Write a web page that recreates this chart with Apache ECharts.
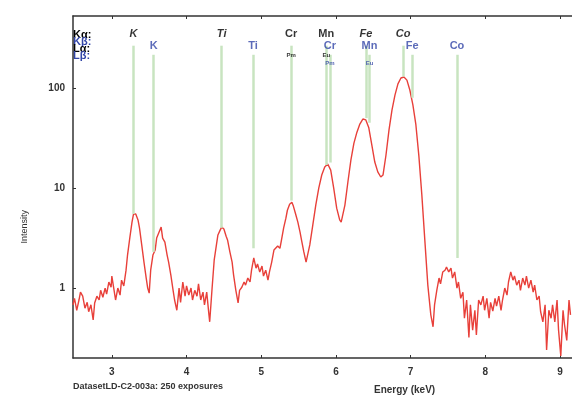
<!DOCTYPE html>
<html>
<head>
<meta charset="utf-8">
<script src="https://cdn.jsdelivr.net/npm/echarts@6/dist/echarts.min.js"></script>
<style>
  html, body { margin: 0; padding: 0; background: #fff; }
  #chart-container { width: 572px; height: 399px; }
</style>
</head>
<body>
<div id="chart-container"></div>
<script>
// spectrum: [energy keV, intensity]
const spectrum = [
  [2.48, 0.68], [2.50, 0.79], [2.53, 0.60], [2.56, 0.76], [2.58, 0.91], [2.61, 0.83], [2.64, 0.63],
  [2.67, 0.72], [2.69, 0.58], [2.72, 0.68], [2.75, 0.48], [2.77, 0.71], [2.80, 0.83], [2.83, 0.76],
  [2.85, 0.95], [2.88, 0.81], [2.91, 1.0], [2.93, 0.87], [2.96, 1.15], [2.99, 1.02], [3.00, 1.32],
  [3.03, 0.95], [3.05, 0.76], [3.08, 1.0], [3.11, 0.85], [3.13, 1.2], [3.16, 1.05], [3.19, 1.51],
  [3.21, 2.14], [3.24, 3.16], [3.27, 4.57], [3.29, 5.5], [3.32, 5.5], [3.35, 4.8], [3.37, 4.0],
  [3.40, 2.7], [3.43, 1.82], [3.46, 1.26], [3.48, 1.0], [3.50, 0.89], [3.52, 1.51], [3.55, 2.14],
  [3.58, 2.4], [3.60, 3.16], [3.63, 3.6], [3.66, 4.07], [3.68, 3.16], [3.71, 2.88], [3.74, 2.14],
  [3.76, 1.82], [3.79, 1.35], [3.82, 0.95], [3.84, 0.76], [3.87, 0.6], [3.90, 1.0], [3.92, 0.72],
  [3.95, 1.15], [3.98, 0.83], [4.00, 1.05], [4.03, 0.85], [4.06, 1.0], [4.08, 0.76], [4.11, 0.95],
  [4.14, 0.83], [4.16, 1.1], [4.19, 0.76], [4.22, 0.91], [4.24, 0.68], [4.27, 0.91], [4.30, 0.54],
  [4.31, 0.46], [4.34, 0.95], [4.37, 1.9], [4.40, 2.7], [4.42, 3.4], [4.45, 3.8], [4.47, 4.07],
  [4.50, 3.9], [4.53, 3.3], [4.55, 3.0], [4.58, 2.3], [4.61, 1.82], [4.63, 1.35], [4.66, 0.95],
  [4.69, 0.71], [4.71, 0.95], [4.74, 1.02], [4.77, 1.15], [4.79, 1.07], [4.82, 1.26], [4.85, 1.15],
  [4.87, 1.51], [4.90, 2.0], [4.93, 1.58], [4.95, 1.74], [4.98, 1.45], [5.01, 1.66], [5.03, 1.32],
  [5.06, 1.51], [5.09, 1.2], [5.11, 1.45], [5.14, 1.82], [5.17, 2.4], [5.19, 2.3], [5.22, 2.63],
  [5.25, 2.5], [5.27, 3.0], [5.30, 4.0], [5.33, 5.0], [5.35, 6.0], [5.38, 6.9], [5.41, 7.2],
  [5.43, 6.6], [5.46, 5.5], [5.49, 4.57], [5.52, 3.6], [5.54, 3.0], [5.57, 2.3], [5.60, 1.82],
  [5.61, 1.82], [5.65, 2.7], [5.69, 4.27], [5.73, 6.76], [5.77, 10], [5.81, 13.5], [5.85, 16.2],
  [5.89, 17.4], [5.93, 15.1], [5.97, 10], [6.01, 6.3], [6.05, 4.8], [6.07, 4.57], [6.12, 6.76],
  [6.16, 11.5], [6.20, 19], [6.24, 28], [6.28, 36], [6.32, 43.6], [6.36, 49], [6.40, 48],
  [6.44, 40], [6.48, 27], [6.52, 18.2], [6.56, 14.5], [6.60, 12.9], [6.63, 13.5], [6.67, 21.4],
  [6.71, 38], [6.75, 60], [6.79, 85], [6.83, 110], [6.87, 126], [6.91, 129], [6.95, 120],
  [6.99, 95], [7.03, 68], [7.07, 43], [7.11, 21], [7.15, 8.5], [7.19, 3.0], [7.23, 1.07],
  [7.27, 0.54], [7.30, 0.41], [7.32, 0.68], [7.35, 0.95], [7.38, 1.26], [7.40, 1.1], [7.43, 1.45],
  [7.46, 1.51], [7.48, 1.62], [7.51, 1.45], [7.54, 1.58], [7.56, 1.26], [7.59, 1.45], [7.62, 1.0],
  [7.64, 1.15], [7.67, 0.79], [7.70, 0.91], [7.72, 0.5], [7.75, 0.76], [7.78, 0.32], [7.80, 0.68],
  [7.83, 0.38], [7.86, 0.6], [7.88, 0.34], [7.91, 0.76], [7.94, 0.68], [7.97, 0.83], [7.99, 0.6],
  [8.02, 0.79], [8.05, 0.5], [8.07, 0.72], [8.10, 0.59], [8.13, 0.79], [8.15, 0.66], [8.18, 0.83],
  [8.21, 0.6], [8.23, 0.76], [8.26, 1.0], [8.29, 0.85], [8.31, 1.15], [8.34, 1.45], [8.37, 1.2],
  [8.39, 1.32], [8.42, 1.07], [8.45, 1.2], [8.47, 0.95], [8.50, 1.26], [8.53, 1.07], [8.55, 1.32],
  [8.58, 1.0], [8.61, 1.2], [8.64, 0.91], [8.66, 1.07], [8.69, 0.76], [8.72, 0.83], [8.74, 0.58],
  [8.77, 0.46], [8.80, 0.68], [8.82, 0.24], [8.85, 0.6], [8.88, 0.5], [8.90, 0.68], [8.93, 0.46],
  [8.96, 0.76], [8.98, 0.38], [9.01, 0.21], [9.04, 0.6], [9.06, 0.43], [9.09, 0.3], [9.12, 0.76],
  [9.14, 0.54]
];

// emission lines: [energy, intensity where the marker stops, label]
const kAlpha = [[3.29, 5.5, "K"], [4.47, 4.0, "Ti"], [5.40, 7.5, "Cr"], [5.87, 17, "Mn"], [6.40, 50, "Fe"], [6.90, 130, "Co"]];
const kBeta = [[3.56, 2.3, "K"], [4.89, 2.5, "Ti"], [5.92, 18, "Cr"], [6.45, 45, "Mn"], [7.02, 80, "Fe"], [7.62, 2.0, "Co"]];
const lAlpha = [[5.40, "Pm"], [5.87, "Eu"]];
const lBeta = [[5.92, "Pm"], [6.45, "Eu"]];
const uprightNames = ["Cr", "Mn"];

const xTicks = [3, 4, 5, 6, 7, 8, 9];
const yTicks = [1, 10, 100];

const chart = echarts.init(document.getElementById("chart-container"));
const font = "Liberation Sans";
const axisColor = "#333";
const blue = "#3346a8";

// marker lines start just under the label rows
const alphaTop = 265, betaTop = 215;
const lineData = [];
kAlpha.forEach(d => lineData.push([{ coord: [d[0], alphaTop] }, { coord: [d[0], d[1]] }]));
kBeta.forEach(d => lineData.push([{ coord: [d[0], betaTop] }, { coord: [d[0], d[1]] }]));

function labelSeries(data, yVal, color, size, italicAll) {
  return {
    type: "scatter",
    symbolSize: 0,
    silent: true,
    data: data.map(d => {
      const name = d[d.length - 1];
      const italic = italicAll && uprightNames.indexOf(name) < 0;
      return {
        value: [d[0], yVal, name],
        label: { fontStyle: italic ? "italic" : "normal" }
      };
    }),
    label: {
      show: true,
      position: "inside",
      formatter: p => p.value[2],
      color: color,
      fontFamily: font,
      fontWeight: "bold",
      fontSize: size
    },
    z: 5
  };
}

const options = {
  animation: false,
  grid: { left: 73, right: 0, top: 16, bottom: 41 },
  xAxis: [
    {
      type: "value",
      min: 2.48,
      max: 9.16,
      axisLine: { show: true, lineStyle: { color: axisColor, width: 1.5 } },
      axisTick: { show: true, inside: true, length: 3, customValues: xTicks, lineStyle: { color: axisColor } },
      axisLabel: { customValues: xTicks, color: "#333", fontFamily: font, fontSize: 10, fontWeight: "bold", margin: 9 },
      splitLine: { show: false }
    },
    {
      type: "value",
      position: "top",
      min: 2.48,
      max: 9.16,
      axisLine: { show: true, lineStyle: { color: axisColor, width: 1.5 } },
      axisTick: { show: true, inside: true, length: 3, customValues: xTicks, lineStyle: { color: axisColor } },
      axisLabel: { show: false },
      splitLine: { show: false }
    }
  ],
  yAxis: {
    type: "log",
    logBase: 10,
    min: 0.2,
    max: 525,
    axisLine: { show: true, lineStyle: { color: axisColor, width: 1.5 } },
    axisTick: { show: true, inside: true, length: 3, customValues: yTicks, lineStyle: { color: axisColor } },
    axisLabel: { customValues: yTicks, color: "#333", fontFamily: font, fontSize: 10, fontWeight: "bold", margin: 8 },
    splitLine: { show: false }
  },
  graphic: [
    { type: "text", left: 20, top: 210, rotation: Math.PI / 2, style: { text: "Intensity", font: "9px " + font, fill: "#333", align: "center", verticalAlign: "middle" } },
    { type: "text", left: 73, top: 382, style: { text: "DatasetLD-C2-003a: 250 exposures", font: "bold 9px " + font, fill: "#333" } },
    { type: "text", left: 374, top: 385, style: { text: "Energy (keV)", font: "bold 10px " + font, fill: "#333" } },
    { type: "text", left: 73, top: 29, style: { text: "Kα:", font: "bold 11px " + font, fill: "#000" } },
    { type: "text", left: 73, top: 36, style: { text: "Kβ:", font: "bold 11px " + font, fill: blue } },
    { type: "text", left: 73, top: 43, style: { text: "Lα:", font: "bold 11px " + font, fill: "#000" } },
    { type: "text", left: 73, top: 50, style: { text: "Lβ:", font: "bold 11px " + font, fill: blue } }
  ],
  series: [
    {
      type: "line",
      data: spectrum,
      showSymbol: false,
      lineStyle: { color: "#e8403a", width: 1.4 },
      z: 3,
      markLine: {
        silent: true,
        symbol: "none",
        label: { show: false },
        lineStyle: { color: "#c8e4c0", width: 2.5, type: "solid" },
        data: lineData
      }
    },
    labelSeries(kAlpha, 347, "#000", 11, true),
    labelSeries(kBeta, 265, blue, 11, false),
    labelSeries(lAlpha, 214, "#000", 6, false),
    labelSeries(lBeta, 178, blue, 6, false)
  ]
};

chart.setOption(options);
</script>
</body>
</html>
